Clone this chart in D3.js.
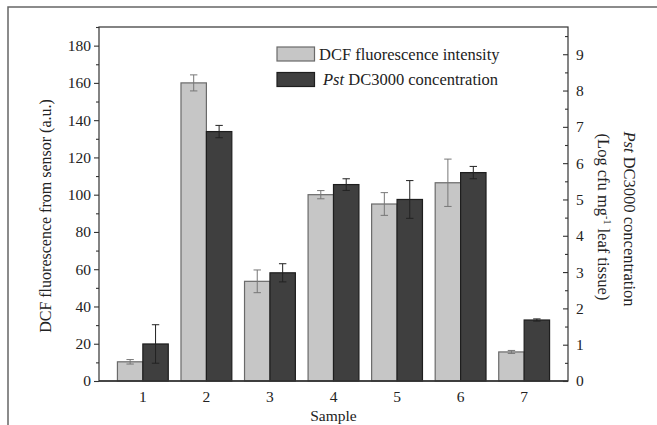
<!DOCTYPE html>
<html>
<head>
<meta charset="utf-8">
<script src="https://cdn.jsdelivr.net/npm/d3@7"></script>
<style>
  html, body { margin: 0; padding: 0; background: #fff; }
  svg { display: block; }
  text { font-family: "Liberation Serif", "DejaVu Serif", serif; fill: #222; }
</style>
</head>
<body>
<svg id="chart" width="657" height="425"></svg>
<script>
// ---- data ----
const samples = ["1", "2", "3", "4", "5", "6", "7"];
const dcfValues = [10.3, 160, 53.5, 100, 95, 106.4, 15.6];          // left axis (a.u.)
const dcfErrors = [1.2, 4.3, 6.1, 2.2, 6.1, 12.7, 0.8];
const pstValues = [1.02, 6.87, 2.98, 5.41, 5.0, 5.74, 1.68];         // right axis (log cfu)
const pstErrors = [0.53, 0.17, 0.25, 0.16, 0.52, 0.17, 0.03];
const leftTicks = [0, 20, 40, 60, 80, 100, 120, 140, 160, 180];
const leftMinor = [10, 30, 50, 70, 90, 110, 130, 150, 170, 190];
const rightTicks = [0, 1, 2, 3, 4, 5, 6, 7, 8, 9];
const rightMinor = [0.5, 1.5, 2.5, 3.5, 4.5, 5.5, 6.5, 7.5, 8.5, 9.5];
const seriesNames = ["DCF fluorescence intensity", "Pst DC3000 concentration"];

// ---- layout ----
const svg = d3.select("#chart");
const L = 99, R = 568, T = 27, B = 381;
const axisColor = "#333";
const grayFill = "#c6c6c6", grayStroke = "#6a6a6a";
const darkFill = "#3f3f3f", darkStroke = "#1e1e1e";

const x = d3.scaleBand().domain(samples).range([L, R]).paddingInner(0.2).paddingOuter(0.29);
const xs = d3.scaleBand().domain([0, 1]).range([0, x.bandwidth()]);
const yL = d3.scaleLinear().domain([0, 190]).range([B, T]);
const yR = d3.scaleLinear().domain([0, 9.75]).range([B, T]);

// outer frame (partial, top and left)
svg.append("path").attr("d", "M8,425 L8,7 L657,7")
  .attr("fill", "none").attr("stroke", "#666").attr("stroke-width", 1.5);

// bars
const g = svg.append("g");
samples.forEach((s, i) => {
  const x0 = x(s);
  g.append("rect")
    .attr("x", x0 + xs(0)).attr("width", xs.bandwidth())
    .attr("y", yL(dcfValues[i])).attr("height", yL(0) - yL(dcfValues[i]))
    .attr("fill", grayFill).attr("stroke", grayStroke).attr("stroke-width", 1.2);
  g.append("rect")
    .attr("x", x0 + xs(1)).attr("width", xs.bandwidth())
    .attr("y", yR(pstValues[i])).attr("height", yR(0) - yR(pstValues[i]))
    .attr("fill", darkFill).attr("stroke", darkStroke).attr("stroke-width", 1.2);
});

// error bars
function errBar(cx, yTop, yBot, color) {
  const cap = 3.7;
  g.append("line").attr("x1", cx).attr("x2", cx).attr("y1", yTop).attr("y2", yBot)
    .attr("stroke", color).attr("stroke-width", 1);
  [yTop, yBot].forEach(yy => g.append("line").attr("x1", cx - cap).attr("x2", cx + cap)
    .attr("y1", yy).attr("y2", yy).attr("stroke", color).attr("stroke-width", 1));
}
samples.forEach((s, i) => {
  const c0 = x(s) + xs(0) + xs.bandwidth() / 2;
  const c1 = x(s) + xs(1) + xs.bandwidth() / 2;
  errBar(c0, yL(dcfValues[i] + dcfErrors[i]), yL(dcfValues[i] - dcfErrors[i]), "#777");
  errBar(c1, yR(pstValues[i] + pstErrors[i]), yR(pstValues[i] - pstErrors[i]), "#222");
});

// plot frame
svg.append("rect").attr("x", L).attr("y", T).attr("width", R - L).attr("height", B - T)
  .attr("fill", "none").attr("stroke", axisColor).attr("stroke-width", 1.2);
svg.append("line").attr("x1", L).attr("x2", R).attr("y1", B).attr("y2", B)
  .attr("stroke", axisColor).attr("stroke-width", 1.6);

// left axis
const axL = svg.append("g").attr("transform", `translate(${L},0)`)
  .call(d3.axisLeft(yL).tickValues(leftTicks).tickSize(5).tickPadding(3));
axL.select(".domain").remove();
axL.selectAll(".tick line").attr("stroke", axisColor).attr("stroke-width", 1.1);
axL.selectAll(".tick text").attr("font-size", 15.5).attr("font-family", "Liberation Serif").attr("fill", "#222");
svg.append("g").attr("transform", `translate(${L},0)`)
  .call(d3.axisLeft(yL).tickValues(leftMinor).tickSize(3).tickFormat(""))
  .call(a => a.select(".domain").remove())
  .selectAll(".tick line").attr("stroke", axisColor).attr("stroke-width", 1.1);

// right axis (ticks pointing inward)
const axR = svg.append("g").attr("transform", `translate(${R},0)`)
  .call(d3.axisRight(yR).tickValues(rightTicks).tickSize(0).tickPadding(8));
axR.select(".domain").remove();
axR.selectAll(".tick text").attr("font-size", 15.5).attr("font-family", "Liberation Serif").attr("fill", "#222");
axR.selectAll(".tick").append("line").attr("x1", -5).attr("x2", 0).attr("stroke", axisColor).attr("stroke-width", 1.1);
svg.append("g").attr("transform", `translate(${R},0)`)
  .call(d3.axisRight(yR).tickValues(rightMinor).tickSize(0).tickFormat(""))
  .call(a => a.select(".domain").remove())
  .selectAll(".tick").append("line").attr("x1", -3).attr("x2", 0).attr("stroke", axisColor).attr("stroke-width", 1.1);

// bottom axis labels (no ticks)
const axB = svg.append("g").attr("transform", `translate(0,${B})`)
  .call(d3.axisBottom(x).tickSize(0).tickPadding(10));
axB.select(".domain").remove();
axB.selectAll(".tick text").attr("font-size", 15.5).attr("font-family", "Liberation Serif").attr("fill", "#222");

// axis titles
svg.append("text").attr("x", (L + R) / 2).attr("y", 421).attr("text-anchor", "middle")
  .attr("font-size", 15.5).text("Sample");

svg.append("text").attr("transform", `translate(51,216) rotate(-90)`).attr("text-anchor", "middle")
  .attr("font-size", 16).text("DCF fluorescence from sensor (a.u.)");

const rt1 = svg.append("text").attr("transform", `translate(624,219) rotate(90)`).attr("text-anchor", "middle")
  .attr("font-size", 16.5);
rt1.append("tspan").attr("font-style", "italic").text("Pst");
rt1.append("tspan").text(" DC3000 concentration");
const rt2 = svg.append("text").attr("transform", `translate(598,217) rotate(90)`).attr("text-anchor", "middle")
  .attr("font-size", 16.5);
rt2.append("tspan").text("(Log cfu mg");
rt2.append("tspan").attr("font-size", 10).attr("dy", -6).text("-1");
rt2.append("tspan").attr("dy", 6).text(" leaf tissue)");

// legend
const leg = svg.append("g");
const legItems = [
  { y: 47, fill: grayFill, stroke: grayStroke },
  { y: 72.5, fill: darkFill, stroke: darkStroke }
];
legItems.forEach((d, i) => {
  leg.append("rect").attr("x", 277).attr("y", d.y).attr("width", 37.5).attr("height", 14)
    .attr("fill", d.fill).attr("stroke", d.stroke).attr("stroke-width", 1.2);
});
leg.append("text").attr("x", 319).attr("y", 59.5).attr("font-size", 16.5).text(seriesNames[0]);
const lt2 = leg.append("text").attr("x", 323).attr("y", 85).attr("font-size", 16.5);
lt2.append("tspan").attr("font-style", "italic").text("Pst");
lt2.append("tspan").text(" DC3000 concentration");
</script>
</body>
</html>
